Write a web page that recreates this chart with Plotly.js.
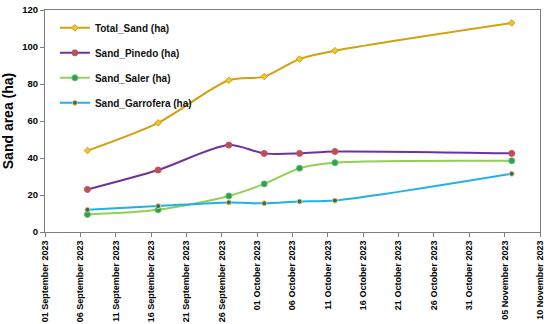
<!DOCTYPE html>
<html><head><meta charset="utf-8">
<script src="https://cdn.plot.ly/plotly-3.0.1.min.js"></script>
<style>body{margin:0;background:#fff}#c{width:550px;height:324px}</style>
</head><body><div id="c"></div>
<script>
const dates = ['2023-09-07','2023-09-17','2023-09-27','2023-10-02','2023-10-07','2023-10-12','2023-11-06'];
const totalSand = [44, 59, 82, 84, 93.5, 98, 113];
const sandPinedo = [23, 33.5, 47, 42.5, 42.5, 43.5, 42.5];
const sandSaler = [9.5, 12, 19.5, 26, 34.5, 37.5, 38.5];
const sandGarrofera = [12, 14, 16, 15.5, 16.5, 17, 31.5];
const seriesNames = ['Total_Sand (ha)','Sand_Pinedo (ha)','Sand_Saler (ha)','Sand_Garrofera (ha)'];

const mk = (y, name, lc, msym, mfill, mline, msize, g) => ({
  x: dates, y: y, name: name, type: 'scatter', mode: 'lines+markers',
  legendgroup: g,
  line: {color: lc, width: 2, shape: 'spline', smoothing: 0.8},
  marker: {symbol: msym, color: mfill, size: msize, line: {color: mline, width: 1}}
});
const data = [
  mk(totalSand, seriesNames[0], '#D4A00F', 'diamond', '#F2C42E', '#D4A00F', 5, 'a'),
  mk(sandPinedo, seriesNames[1], '#7030A0', 'circle', '#C0504D', '#B5546A', 6, 'b'),
  mk(sandSaler, seriesNames[2], '#92D050', 'circle', '#2E9E5B', '#5CBF5C', 6, 'c'),
  mk(sandGarrofera, seriesNames[3], '#1FB0E8', 'circle', '#2B6C7A', '#F0D060', 5, 'd')
];
const tf = 'Liberation Sans, Arial, sans-serif';
const layout = {
  width: 550, height: 324,
  margin: {l: 45, r: 10, t: 10, b: 92},
  paper_bgcolor: '#fff', plot_bgcolor: '#fff',
  font: {family: tf, color: '#000'},
  showlegend: true,
  legend: {x: 0.02, y: 0.985, xanchor: 'left', yanchor: 'top', bgcolor: 'rgba(0,0,0,0)',
    font: {size: 10, family: tf, weight: 'bold', color: '#111'},
    itemwidth: 30, tracegroupgap: 6},
  xaxis: {
    type: 'date', range: ['2023-09-01', '2023-11-10'],
    tick0: '2023-09-01', dtick: 5 * 86400000, tickformat: '%d %B %Y',
    tickangle: -90, tickfont: {size: 9, family: tf, weight: 'bold'},
    showgrid: false, zeroline: false, showline: true, linecolor: '#7f7f7f', linewidth: 1,
    mirror: true, ticks: 'outside', ticklen: 4, tickcolor: '#7f7f7f'
  },
  yaxis: {
    range: [0, 120], dtick: 20,
    tickfont: {size: 9.5, family: tf, weight: 'bold'},
    title: {text: 'Sand area (ha)', font: {size: 14, family: tf, weight: 'bold'}, standoff: 10},
    showgrid: false, zeroline: false, showline: true, linecolor: '#7f7f7f', linewidth: 1,
    mirror: true, ticks: 'outside', ticklen: 4, tickcolor: '#7f7f7f'
  }
};
Plotly.newPlot('c', data, layout, {displayModeBar: false, staticPlot: true});
</script></body></html>
